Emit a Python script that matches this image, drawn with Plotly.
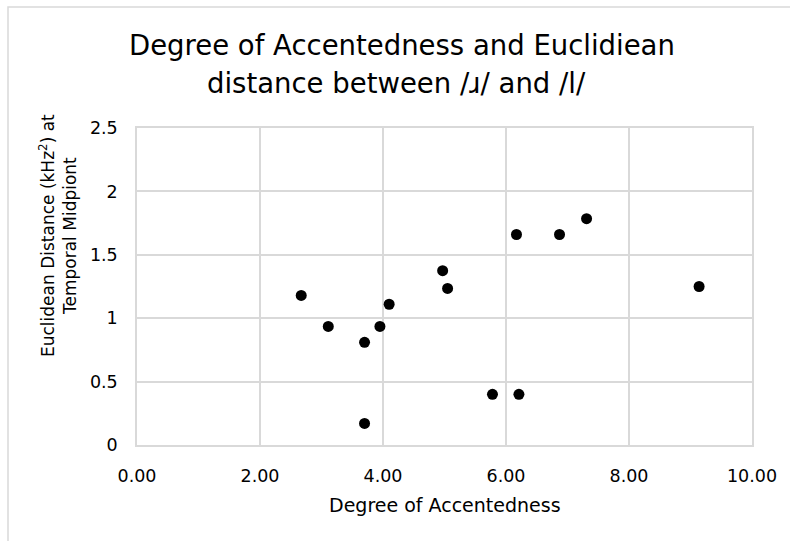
import plotly.graph_objects as go

accentedness = [2.67, 3.11, 3.70, 3.95, 4.10, 4.97, 5.05, 3.70, 5.78, 6.21, 6.17, 6.87, 7.31, 9.14]
euclid_dist = [1.18, 0.935, 0.81, 0.935, 1.11, 1.375, 1.235, 0.17, 0.40, 0.40, 1.66, 1.66, 1.785, 1.25]

x_ticks = [0, 2, 4, 6, 8, 10]
x_tick_labels = ["0.00", "2.00", "4.00", "6.00", "8.00", "10.00"]
y_ticks = [0, 0.5, 1, 1.5, 2, 2.5]
y_tick_labels = ["0", "0.5", "1", "1.5", "2", "2.5"]
title_lines = ["Degree of Accentedness and Euclidiean", "distance between /ɹ/ and /l/"]

FONT = "Tahoma, Verdana, DejaVu Sans, sans-serif"
W, H = 790, 541
L, R, T, B = 137, 38, 128, 96
pw, ph = W - L - R, H - T - B


def py(pix):
    return (T + ph - pix) / ph


def px(pix):
    return (pix - L) / pw


fig = go.Figure()
fig.add_trace(go.Scatter(
    x=accentedness, y=euclid_dist, mode="markers",
    marker=dict(color="#000000", size=11),
    showlegend=False, hoverinfo="x+y"))

grid = "#d9d9d9"
fig.update_layout(
    width=W, height=H,
    margin=dict(l=L, r=R, t=T, b=B),
    paper_bgcolor="white", plot_bgcolor="white",
    font=dict(family=FONT, color="#000000", size=17),
    xaxis=dict(range=[0, 10], tickvals=x_ticks, ticktext=x_tick_labels,
               showgrid=True, gridcolor=grid, gridwidth=1.5,
               zeroline=False, showline=True, linecolor=grid, linewidth=1.5,
               ticks="", ticklabelstandoff=14, mirror=True,
               tickfont=dict(size=17.5, family=FONT)),
    yaxis=dict(range=[0, 2.5], tickvals=y_ticks, ticktext=y_tick_labels,
               showgrid=True, gridcolor=grid, gridwidth=1.5,
               zeroline=False, showline=True, linecolor=grid, linewidth=1.5,
               ticks="", ticklabelstandoff=14, mirror=True,
               tickfont=dict(size=17.5, family=FONT)),
)

# title, two lines
fig.add_annotation(text=title_lines[0], xref="paper", yref="paper",
                   x=px(402), y=py(45), xanchor="center", yanchor="middle",
                   showarrow=False, font=dict(size=27.5, family=FONT, color="#000000"))
fig.add_annotation(text=title_lines[1], xref="paper", yref="paper",
                   x=px(396), y=py(83), xanchor="center", yanchor="middle",
                   showarrow=False, font=dict(size=27.5, family=FONT, color="#000000"))

# x-axis title
fig.add_annotation(text="Degree of Accentedness", xref="paper", yref="paper",
                   x=0.5, y=py(505), xanchor="center", yanchor="middle",
                   showarrow=False, font=dict(size=19, family=FONT, color="#000000"))
# y-axis title
fig.add_annotation(text="Euclidean Distance (kHz<sup>2</sup>) at<br>Temporal Midpiont",
                   xref="paper", yref="paper",
                   x=px(58), y=py(236), xanchor="center", yanchor="middle",
                   textangle=-90, showarrow=False,
                   font=dict(size=17, family=FONT, color="#000000"))

# chart-area frame (cropped at right and bottom)
fig.add_shape(type="rect", xref="paper", yref="paper",
              x0=px(8), x1=px(W + 20),
              y0=py(H + 20), y1=py(7),
              line=dict(color="#d9d9d9", width=1.5), fillcolor="rgba(0,0,0,0)", layer="below")

fig.write_html("out.html")
